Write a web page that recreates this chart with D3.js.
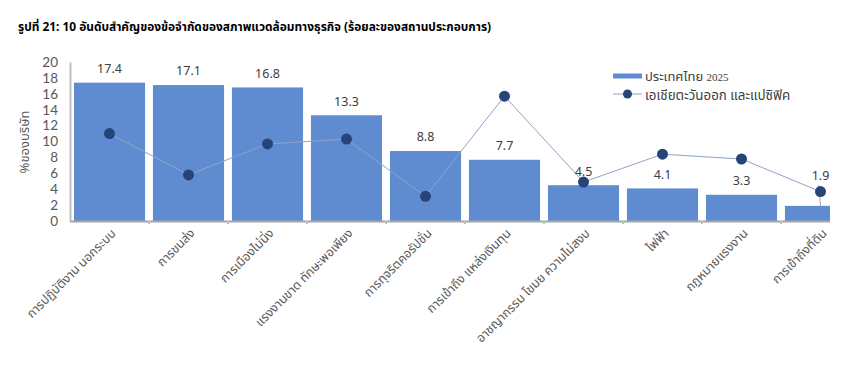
<!DOCTYPE html>
<html><head><meta charset="utf-8">
<script src="https://cdn.jsdelivr.net/npm/d3@7/dist/d3.min.js"></script>
<style>
body{margin:0;background:#fff;}
svg{display:block;font-family:"Noto Sans","Noto Sans Thai",Tahoma,sans-serif;}
</style></head>
<body><svg id="c" width="850" height="365"></svg>
<script>
const categories = ["การปฏิบัติงาน นอกระบบ","การขนส่ง","การเมืองไม่นิ่ง","แรงงานขาด ทักษะพอเพียง","การทุจริตคอรัปชั่น","การเข้าถึง แหล่งเงินทุน","อาชญากรรม โขมย ความไม่สงบ","ไฟฟ้า","กฎหมายแรงงาน","การเข้าถึงที่ดิน"];
const thailand = [17.4,17.1,16.8,13.3,8.8,7.7,4.5,4.1,3.3,1.9];
const eastAsia = [11.0,5.8,9.7,10.3,3.1,15.7,4.9,8.4,7.8,3.7];
const yTicks = [0,2,4,6,8,10,12,14,16,18,20];
const seriesNames = ["ประเทศไทย","เอเชียตะวันออก และแปซิฟิค"];

const svg = d3.select("#c");
const mLeft = 70, mBottom = 221, mTop = 62, clipRight = 830;
const x = d3.scaleBand().domain(categories).range([mLeft, mLeft + 790]).paddingInner(0.1).paddingOuter(0.05);
const y = d3.scaleLinear().domain([0,20]).range([mBottom, mTop]);

svg.append("defs").append("clipPath").attr("id","clip")
  .append("rect").attr("x",mLeft).attr("y",0).attr("width",clipRight-mLeft).attr("height",mBottom+2);

svg.append("text").attr("x",18).attr("y",31).attr("font-size",11.9).attr("font-weight","bold")
  .attr("fill","#000").text("รูปที่ 21: 10 อันดับสำคัญของข้อจำกัดของสภาพแวดล้อมทางธุรกิจ (ร้อยละของสถานประกอบการ)");

// y axis
const ya = svg.append("g").attr("transform",`translate(${mLeft},0)`)
  .call(d3.axisLeft(y).tickValues(yTicks).tickSize(0).tickPadding(12));
ya.select(".domain").attr("stroke","#bfbfbf").attr("stroke-width",2);
ya.selectAll("text").attr("font-size",13.5).attr("fill","#595959").attr("font-family","Lato, sans-serif");

svg.append("text").attr("transform",`translate(29,142) rotate(-90)`).attr("text-anchor","middle")
  .attr("font-size",13).attr("fill","#595959").text("%ของบริษัท");

const g = svg.append("g").attr("clip-path","url(#clip)");
g.selectAll("rect.bar").data(thailand).join("rect").attr("class","bar")
  .attr("x",(d,i)=>x(categories[i])).attr("width",x.bandwidth())
  .attr("y",d=>y(d)).attr("height",d=>y(0)-y(d)).attr("fill","#5f8cd1");

// x axis
const xa = svg.append("g").attr("transform",`translate(0,${mBottom})`);
xa.append("line").attr("x1",mLeft).attr("x2",clipRight).attr("y1",0.5).attr("y2",0.5).attr("stroke","#a6a6a6").attr("stroke-width",2);
const step = x.step();
xa.selectAll("line.tk").data(d3.range(1,10)).join("line").attr("class","tk")
  .attr("x1",i=>x(categories[i]) - (step - x.bandwidth())/2).attr("x2",i=>x(categories[i]) - (step - x.bandwidth())/2)
  .attr("y1",0).attr("y2",3).attr("stroke","#bfbfbf").attr("stroke-width",2);
xa.selectAll("text").data(categories).join("text")
  .attr("transform",d=>`translate(${x(d)+x.bandwidth()/2+4},10) rotate(-45)`)
  .attr("text-anchor","end").attr("dy","0.35em").attr("font-size",12.5).attr("fill","#595959").text(d=>d);

// line series
const cx = i => x(categories[i]) + x.bandwidth()/2;
svg.append("path").datum(eastAsia).attr("fill","none").attr("stroke","#8ea3c8").attr("stroke-width",1)
  .attr("d",d3.line().x((d,i)=>cx(i)).y(d=>y(d)));
// leader line for last label
svg.append("line").attr("x1",cx(9)-2).attr("y1",y(thailand[9])-21).attr("x2",cx(9)).attr("y2",y(thailand[9]))
  .attr("stroke","#a6a6a6").attr("stroke-width",1);
svg.selectAll("circle.pt").data(eastAsia).join("circle").attr("class","pt")
  .attr("cx",(d,i)=>cx(i)).attr("cy",d=>y(d)).attr("r",5.5).attr("fill","#264478");

// labels
svg.selectAll("text.lbl").data(thailand).join("text").attr("class","lbl")
  .attr("x",(d,i)=>cx(i)).attr("y",(d,i)=> i===9 ? y(d)-30 : y(d)-14)
  .attr("dy","0.35em").attr("text-anchor","middle").attr("font-size",12.5).attr("fill","#404040")
  .text(d=>d.toFixed(1));

// legend
const lg = svg.append("g");
lg.append("rect").attr("x",613).attr("y",73.5).attr("width",29).attr("height",5).attr("fill","#5f8cd1");
const t1 = lg.append("text").attr("x",645).attr("y",81).attr("font-size",13).attr("fill","#404040");
t1.append("tspan").text(seriesNames[0]+" ");
t1.append("tspan").attr("font-family","Liberation Serif, serif").attr("font-size",11).text("2025");
lg.append("line").attr("x1",613).attr("x2",642).attr("y1",94).attr("y2",94).attr("stroke","#8ea3c8");
lg.append("circle").attr("cx",627.5).attr("cy",94).attr("r",4.5).attr("fill","#264478");
lg.append("text").attr("x",645).attr("y",100).attr("font-size",13.4).attr("fill","#404040").text(seriesNames[1]);
</script></body></html>
